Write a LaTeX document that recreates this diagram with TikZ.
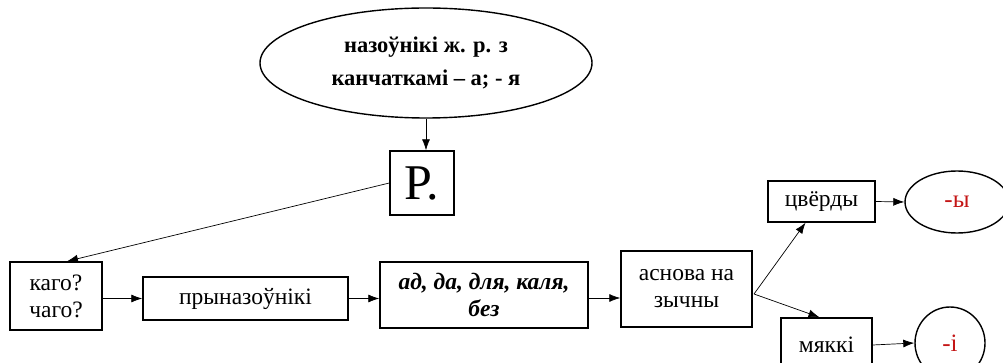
\documentclass[tikz,border=0pt]{standalone}
\usepackage{fontspec}
\setmainfont{Liberation Serif}
\usetikzlibrary{arrows.meta,shapes.geometric}
\definecolor{endred}{RGB}{196,22,22}
\begin{document}
\begin{tikzpicture}[x=1pt,y=-1pt,
  box/.style={draw,line width=1.4pt,inner sep=0pt,align=center,font=\fontsize{23.5}{27}\selectfont},
  oval/.style={draw,line width=1.4pt,ellipse,inner sep=0pt,align=center},
  conn/.style={line width=0.7pt,-{Latex[length=11pt,width=8pt]}}]
\clip (0,0) rectangle (1003,363);
\useasboundingbox (0,0) rectangle (1003,363);
\node[oval,minimum width=332pt,minimum height=110pt,font=\bfseries\fontsize{22.5}{33}\selectfont] (top) at (426,63) {назоўнікі ж. р. з\\канчаткамі – а; - я};
\node[box,minimum width=64pt,minimum height=64pt,font=\fontsize{50}{52}\selectfont] (R) at (422,183) {Р.};
\node[box,minimum width=92pt,minimum height=68pt] (kago) at (56,296) {каго?\\чаго?};
\node[box,minimum width=205pt,minimum height=43pt] (pryn) at (245.5,298.5) {прыназоўнікі};
\node[box,minimum width=208pt,minimum height=66pt,font=\bfseries\itshape\fontsize{23.5}{27}\selectfont] (ad) at (484,295) {ад, да, для, каля,\\без};
\node[box,minimum width=131pt,minimum height=76pt] (asn) at (686.5,289) {аснова на\\зычны};
\node[box,minimum width=107pt,minimum height=41pt] (cv) at (821.5,201.5) {цвёрды};
\node[box,minimum width=91pt,minimum height=54pt] (mk) at (826.5,345) {мяккі};
\node[oval,minimum width=104pt,minimum height=62pt,text=endred,font=\fontsize{25}{28}\selectfont] (y) at (957,202) {-ы};
\node[oval,minimum width=70pt,minimum height=72pt,text=endred,font=\fontsize{25}{28}\selectfont] (i) at (950,343) {-і};
\draw[conn] (top.south) -- (top.south |- R.north);
\draw[conn] (R.west) -- ([xshift=11pt]kago.north);
\draw[conn] (kago.east |- pryn.west) -- (pryn.west);
\draw[conn] (pryn.east) -- (pryn.east -| ad.west);
\draw[conn] (ad.east |- 0,298) -- (asn.west |- 0,298);
\coordinate (fork) at (754,294);
\draw[conn] (fork) -- ([xshift=-16pt]cv.south);
\draw[conn] (fork) -- ([xshift=-7pt]mk.north);
\draw[conn] (cv.east) -- (y.west);
\draw[conn] (mk.east) -- (i.west);
\end{tikzpicture}
\end{document}
